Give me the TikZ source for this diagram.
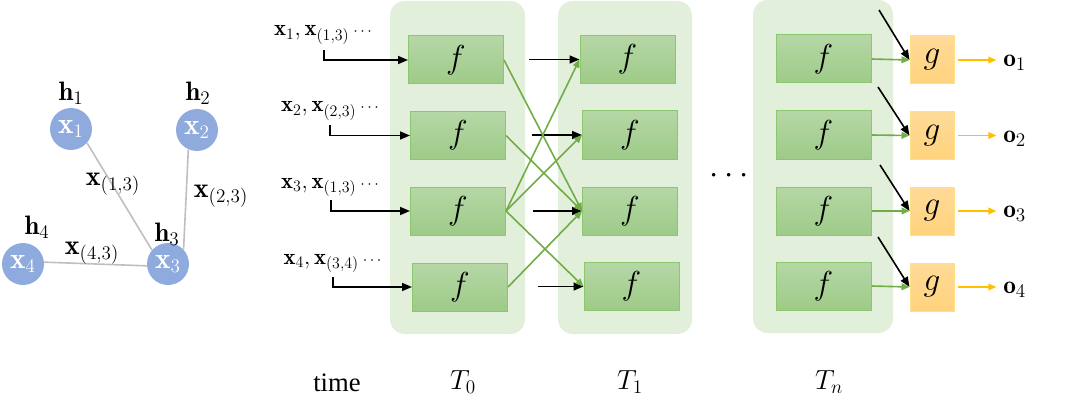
\documentclass[tikz,border=0pt]{standalone}
\usepackage{fontspec}
\newfontfamily\timesfont{Liberation Serif}
\usetikzlibrary{arrows.meta}
\definecolor{panelc}{HTML}{E2EFDA}
\definecolor{ftop}{HTML}{B5D7A6}
\definecolor{fbot}{HTML}{9ECB88}
\definecolor{fborder}{HTML}{8CC66E}
\definecolor{gtop}{HTML}{FFDB98}
\definecolor{gbot}{HTML}{FFD27C}
\definecolor{gborder}{HTML}{FFE08A}
\definecolor{bluec}{HTML}{8FAADC}
\definecolor{edgec}{HTML}{BFBFBF}
\definecolor{greenar}{HTML}{70AD47}
\definecolor{yellowar}{HTML}{FFC000}
\newcommand\setfs[1]{\fontsize{#1}{#1}\selectfont}
\newcommand\smalldots{{\setfs{12}$\cdots$}}
\begin{document}
\begin{tikzpicture}[x=0.75pt,y=-0.75pt,
  fbox/.style={draw=fborder, line width=0.75pt, top color=ftop, bottom color=fbot,
    minimum width=71.25pt, minimum height=36pt, inner sep=0pt, font=\setfs{24}},
  gbox/.style={draw=gborder, line width=0.75pt, top color=gtop, bottom color=gbot,
    minimum width=33pt, minimum height=36pt, inner sep=0pt, font=\setfs{24}},
  vtx/.style={circle, fill=bluec, minimum size=31.5pt, inner sep=0pt, text=white, font=\setfs{22}},
  blk/.style={-{Triangle[length=7.5pt,width=6pt]}, line width=1.2pt, black},
  grn/.style={-{Triangle[length=6pt,width=5pt]}, line width=1.2pt, greenar},
  yel/.style={-{Triangle[length=6pt,width=5pt]}, line width=1.2pt, yellowar},
  gedge/.style={draw=edgec, line width=1.2pt},
  panel/.style={fill=panelc, rounded corners=11pt},
  lab/.style={inner sep=0pt},
]
\useasboundingbox (0,0) rectangle (1080,406);

% ---------- left graph ----------
\node[vtx] (x1) at (71,129) {$\mathbf{x}_1$};
\node[vtx] (x2) at (197,130) {$\mathbf{x}_2$};
\node[vtx] (x3) at (168,264) {$\mathbf{x}_3$};
\node[vtx] (x4) at (23,264) {$\mathbf{x}_4$};
\draw[gedge] (x1.-41) -- (x3.139);
\draw[gedge] (x2.-114) -- (x3.43);
\draw[gedge] (x4.5) -- (x3.185);
\node[lab, font=\setfs{20}] (h1) at (71,93) {$\mathbf{h}_1$};
\node[lab, font=\setfs{20}] (h2) at (198,93) {$\mathbf{h}_2$};
\node[lab, font=\setfs{20}] (h3) at (167,234) {$\mathbf{h}_3$};
\node[lab, font=\setfs{20}] (h4) at (37,227) {$\mathbf{h}_4$};
\node[lab, font=\setfs{21}] (l13) at (113,184) {$\mathbf{x}_{(1,3)}$};
\node[lab, font=\setfs{21}] (l23) at (221,196) {$\mathbf{x}_{(2,3)}$};
\node[lab, font=\setfs{21}] (l43) at (92,253) {$\mathbf{x}_{(4,3)}$};

% ---------- panels ----------
\path[panel] (390,1) rectangle (525,334);
\path[panel] (558,1) rectangle (692,334);
\path[panel] (753,0) rectangle (893,333);

% ---------- f boxes ----------
\node[fbox] (f01) at (456,60) {$f$};
\node[fbox] (f02) at (458,135.5) {$f$};
\node[fbox] (f03) at (458,211) {$f$};
\node[fbox] (f04) at (460,287) {$f$};
\node[fbox] (f11) at (627.5,59.5) {$f$};
\node[fbox] (f12) at (630,135) {$f$};
\node[fbox] (f13) at (630,211) {$f$};
\node[fbox] (f14) at (631.5,286.5) {$f$};
\node[fbox] (fn1) at (823.5,59) {$f$};
\node[fbox] (fn2) at (823.5,135) {$f$};
\node[fbox] (fn3) at (823.5,211) {$f$};
\node[fbox] (fn4) at (823.5,286) {$f$};
\node[gbox] (g1) at (932,60) {$g$};
\node[gbox] (g2) at (932,135.5) {$g$};
\node[gbox] (g3) at (932,211) {$g$};
\node[gbox] (g4) at (932,287) {$g$};

% ---------- inputs ----------
\node[lab, font=\setfs{17}] (in1) at (323,35) {$\mathbf{x}_1,\mathbf{x}_{(1,3)}$\,\smalldots};
\node[lab, font=\setfs{17}] (in2) at (330,111) {$\mathbf{x}_2,\mathbf{x}_{(2,3)}$\,\smalldots};
\node[lab, font=\setfs{17}] (in3) at (330,187) {$\mathbf{x}_3,\mathbf{x}_{(1,3)}$\,\smalldots};
\node[lab, font=\setfs{17}] (in4) at (332.5,263) {$\mathbf{x}_4,\mathbf{x}_{(3,4)}$\,\smalldots};
\coordinate (s1) at (324,50);
\coordinate (s2) at (330,125);
\coordinate (s3) at (331,200);
\coordinate (s4) at (333,277);
\draw[blk] (s1) |- (f01.west);
\draw[blk] (s2) |- (f02.west);
\draw[blk] (s3) |- (f03.west);
\draw[blk] (s4) |- (f04.west);

% ---------- T0 -> T1 ----------
\coordinate (a1) at (529,59.5);
\coordinate (a2) at (532,135);
\coordinate (a3) at (533,211);
\coordinate (a4) at (538,286.5);
\draw[blk] (a1) -- (f11.west);
\draw[blk] (a2) -- (f12.west);
\draw[blk] (a3) -- (f13.west);
\draw[blk] (a4) -- (f14.west);
\draw[grn] (f01.east) -- (f13.west);
\draw[grn] (f02.east) -- (f13.west);
\draw[grn] (f03.east) -- (f11.west);
\draw[grn] (f03.east) -- (f12.west);
\draw[grn] (f03.east) -- (f14.west);
\draw[grn] (f04.east) -- (f13.west);

% ---------- Tn -> g -> o ----------
\coordinate (c1) at (879,10);
\coordinate (c2) at (878,87);
\coordinate (c3) at (880,165);
\coordinate (c4) at (878,237);
\draw[blk] (c1) -- (g1.west);
\draw[blk] (c2) -- (g2.west);
\draw[blk] (c3) -- (g3.west);
\draw[blk] (c4) -- (g4.west);
\draw[grn] (fn1.east) -- (g1.west);
\draw[grn] (fn2.east) -- (g2.west);
\draw[grn] (fn3.east) -- (g3.west);
\draw[grn] (fn4.east) -- (g4.west);
\node[lab, anchor=west, font=\setfs{19}] (o1) at (1003,63) {$\mathbf{o}_1$};
\node[lab, anchor=west, font=\setfs{19}] (o2) at (1003,139) {$\mathbf{o}_2$};
\node[lab, anchor=west, font=\setfs{19}] (o3) at (1003,214) {$\mathbf{o}_3$};
\node[lab, anchor=west, font=\setfs{19}] (o4) at (1003,290) {$\mathbf{o}_4$};
\draw[yel, shorten <=2.25pt, shorten >=5pt] (g1.east) -- (g1.east -| o1.west);
\draw[yel, shorten <=2.25pt, shorten >=5pt] (g2.east) -- (g2.east -| o2.west);
\draw[yel, shorten <=2.25pt, shorten >=5pt] (g3.east) -- (g3.east -| o3.west);
\draw[yel, shorten <=2.25pt, shorten >=5pt] (g4.east) -- (g4.east -| o4.west);

% ---------- dots and time axis ----------
\node[lab, anchor=base, font=\setfs{24}] (dots) at (729,183) {$\cdots$};
\node[lab, anchor=base, font=\timesfont\setfs{20}] (time) at (337,391) {time};
\node[lab, anchor=base, font=\setfs{22}] (t0) at (463,389) {$T_0$};
\node[lab, anchor=base, font=\setfs{22}] (t1) at (630,389) {$T_1$};
\node[lab, anchor=base, font=\setfs{22}] (tn) at (829,389) {$T_n$};
\end{tikzpicture}
\end{document}
